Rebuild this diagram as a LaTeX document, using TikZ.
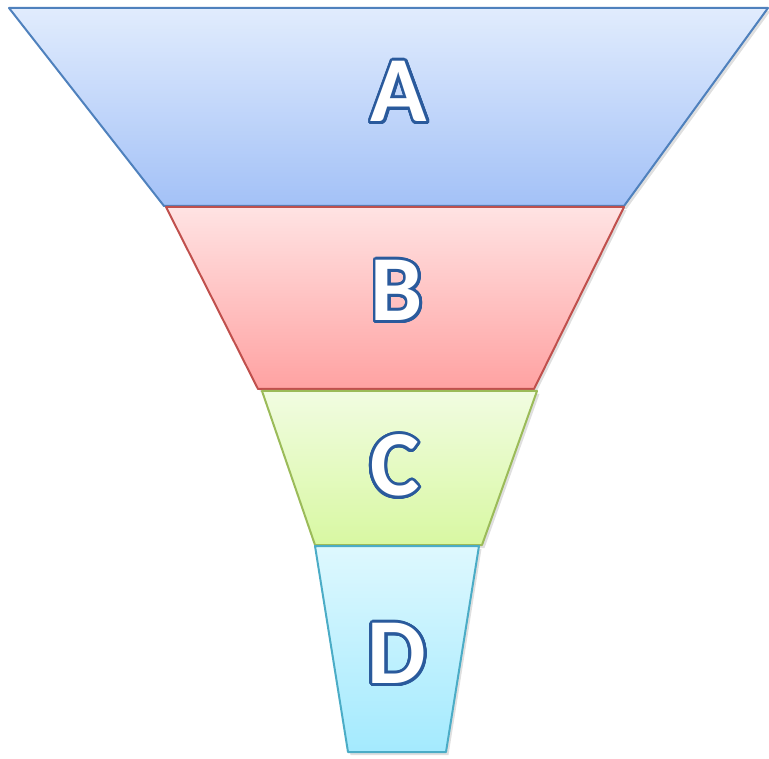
\documentclass[tikz,border=0pt]{standalone}
\usepackage{fontspec}
\setmainfont{Carlito}
\usepackage{contour}
\usetikzlibrary{shadows}
\definecolor{bordaA}{HTML}{4F81BD}
\definecolor{bordaB}{HTML}{C0504D}
\definecolor{bordaC}{HTML}{9BBB59}
\definecolor{bordaD}{HTML}{4BACC6}
\definecolor{topoA}{HTML}{E1ECFD}
\definecolor{baseA}{HTML}{A3C1F7}
\definecolor{topoB}{HTML}{FFE3E3}
\definecolor{baseB}{HTML}{FFA2A2}
\definecolor{topoC}{HTML}{F1FCE1}
\definecolor{baseC}{HTML}{D8F8A2}
\definecolor{topoD}{HTML}{DEF8FE}
\definecolor{baseD}{HTML}{A4EAFE}
\definecolor{contorno}{HTML}{2A5A9C}
\contourlength{2.8pt}
\contournumber{32}

\begin{document}
\begin{tikzpicture}[x=1pt, y=-1pt,
  faixa/.style={line width=2pt, line join=round,
    drop shadow={opacity=0.25, shadow xshift=2.5pt, shadow yshift=-3pt}},
  letra/.style={font=\fontsize{93}{93}\selectfont\bfseries, text=white, inner sep=0pt}]
\useasboundingbox (0,0) rectangle (769,759);
% faixas do funil, de cima para baixo
\filldraw[faixa, draw=bordaA, top color=topoA, bottom color=baseA]
  (9,8) -- (768,8) -- (624,206) -- (164,206) -- cycle;
\filldraw[faixa, draw=bordaB, top color=topoB, bottom color=baseB]
  (166,207) -- (624,207) -- (534,389) -- (258,389) -- cycle;
\filldraw[faixa, draw=bordaC, top color=topoC, bottom color=baseC]
  (262,391) -- (537,391) -- (482,545) -- (315,545) -- cycle;
\filldraw[faixa, draw=bordaD, top color=topoD, bottom color=baseD]
  (315,546) -- (479,546) -- (446,752) -- (348,752) -- cycle;
% letras
\node[letra] (a) at (399,93) {\contour{contorno}{A}};
\node[letra] (b) at (397,292) {\contour{contorno}{B}};
\node[letra] (c) at (395,467) {\contour{contorno}{C}};
\node[letra] (d) at (397,655) {\contour{contorno}{D}};
\end{tikzpicture}
\end{document}
